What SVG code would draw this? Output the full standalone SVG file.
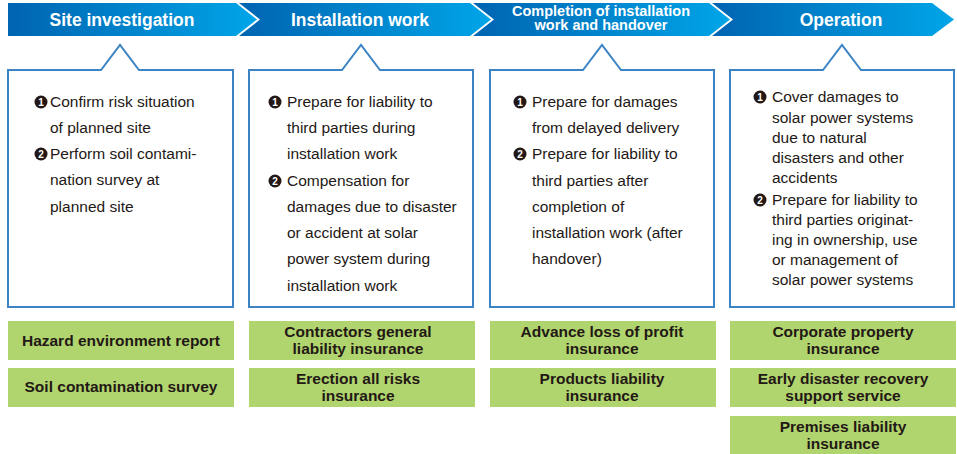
<svg xmlns="http://www.w3.org/2000/svg" width="957" height="454" viewBox="0 0 957 454">
<defs>
<linearGradient id="hg" x1="0" y1="0" x2="1" y2="0">
<stop offset="0" stop-color="#0064b1"/>
<stop offset="1" stop-color="#00a5e8"/>
</linearGradient>
</defs>
<style>
.hd{fill:url(#hg)}
.ht{font-family:"Liberation Sans",Arial,sans-serif;font-weight:bold;fill:#fff;text-anchor:middle}
.bx{fill:#fff;stroke:#3d84c5;stroke-width:2}
.bt{font-family:"Liberation Sans",Arial,sans-serif;font-size:15.5px;fill:#231815}
.nc{fill:#231815}
.nt{font-family:"Liberation Sans",Arial,sans-serif;font-size:10px;font-weight:bold;fill:#fff;text-anchor:middle}
.gb{fill:#b1d56e}
.gt{font-family:"Liberation Sans",Arial,sans-serif;font-size:15.5px;font-weight:bold;fill:#231815;text-anchor:middle}
</style>
<rect width="957" height="454" fill="#fff"/>

<g id="header1">
<polygon class="hd" points="8,3 236,3 257,19.5 236,36 8,36"/>
<text class="ht" x="122" y="26" font-size="17.5">Site investigation</text>
</g>
<g id="header2">
<polygon class="hd" points="239,3 470,3 491,19.5 470,36 239,36 260,19.5"/>
<text class="ht" x="360" y="26" font-size="17.5">Installation work</text>
</g>
<g id="header3">
<polygon class="hd" points="473,3 709,3 730,19.5 709,36 473,36 494,19.5"/>
<text class="ht" x="601" y="15.5" font-size="14.5">Completion of installation</text>
<text class="ht" x="601" y="30" font-size="14.5">work and handover</text>
</g>
<g id="header4">
<polygon class="hd" points="712,3 932,3 954,19.5 932,36 712,36 733,19.5"/>
<text class="ht" x="841" y="26" font-size="17.5">Operation</text>
</g>

<g id="box1">
<path class="bx" d="M8,70 H101 L120,45 L139,70 H233 V307 H8 Z"/>
<circle class="nc" cx="41" cy="102" r="6.5"/><text class="nt" x="41" y="105.5">1</text>
<circle class="nc" cx="41" cy="154" r="6.5"/><text class="nt" x="41" y="157.5">2</text>
<text class="bt">
<tspan x="50" y="107">Confirm risk situation</tspan>
<tspan x="50" y="133">of planned site</tspan>
<tspan x="50" y="159">Perform soil contami-</tspan>
<tspan x="50" y="185">nation survey at</tspan>
<tspan x="50" y="212">planned site</tspan>
</text>
</g>

<g id="box2">
<path class="bx" d="M249,70 H342 L361,45 L380,70 H473 V307 H249 Z"/>
<circle class="nc" cx="275" cy="102" r="6.5"/><text class="nt" x="275" y="105.5">1</text>
<circle class="nc" cx="275" cy="181" r="6.5"/><text class="nt" x="275" y="184.5">2</text>
<text class="bt">
<tspan x="287" y="107">Prepare for liability to</tspan>
<tspan x="287" y="133">third parties during</tspan>
<tspan x="287" y="159">installation work</tspan>
<tspan x="287" y="186">Compensation for</tspan>
<tspan x="287" y="212">damages due to disaster</tspan>
<tspan x="287" y="238">or accident at solar</tspan>
<tspan x="287" y="264">power system during</tspan>
<tspan x="287" y="291">installation work</tspan>
</text>
</g>

<g id="box3">
<path class="bx" d="M490,70 H583 L602,45 L621,70 H714 V307 H490 Z"/>
<circle class="nc" cx="520" cy="102" r="6.5"/><text class="nt" x="520" y="105.5">1</text>
<circle class="nc" cx="520" cy="154" r="6.5"/><text class="nt" x="520" y="157.5">2</text>
<text class="bt">
<tspan x="532" y="107">Prepare for damages</tspan>
<tspan x="532" y="133">from delayed delivery</tspan>
<tspan x="532" y="159">Prepare for liability to</tspan>
<tspan x="532" y="186">third parties after</tspan>
<tspan x="532" y="212">completion of</tspan>
<tspan x="532" y="238">installation work (after</tspan>
<tspan x="532" y="264">handover)</tspan>
</text>
</g>

<g id="box4">
<path class="bx" d="M730,70 H823 L842,45 L861,70 H954 V307 H730 Z"/>
<circle class="nc" cx="760" cy="97" r="6.5"/><text class="nt" x="760" y="100.5">1</text>
<circle class="nc" cx="760" cy="200" r="6.5"/><text class="nt" x="760" y="203.5">2</text>
<text class="bt">
<tspan x="772" y="102">Cover damages to</tspan>
<tspan x="772" y="123">solar power systems</tspan>
<tspan x="772" y="143">due to natural</tspan>
<tspan x="772" y="163">disasters and other</tspan>
<tspan x="772" y="183">accidents</tspan>
<tspan x="772" y="205">Prepare for liability to</tspan>
<tspan x="772" y="225">third parties originat-</tspan>
<tspan x="772" y="245">ing in ownership, use</tspan>
<tspan x="772" y="265">or management of</tspan>
<tspan x="772" y="285">solar power systems</tspan>
</text>
</g>

<g id="g-hazard"><rect class="gb" x="8" y="321" width="226" height="39"/><text class="gt" x="121" y="346">Hazard environment report</text></g>
<g id="g-soil"><rect class="gb" x="8" y="368" width="226" height="39"/><text class="gt" x="121" y="392">Soil contamination survey</text></g>
<g id="g-cgl"><rect class="gb" x="249" y="321" width="226" height="39"/><text class="gt" x="358" y="337">Contractors general</text><text class="gt" x="358" y="354">liability insurance</text></g>
<g id="g-ear"><rect class="gb" x="249" y="368" width="226" height="39"/><text class="gt" x="358" y="384">Erection all risks</text><text class="gt" x="358" y="401">insurance</text></g>
<g id="g-alop"><rect class="gb" x="490" y="321" width="226" height="39"/><text class="gt" x="602" y="337">Advance loss of profit</text><text class="gt" x="602" y="354">insurance</text></g>
<g id="g-pl"><rect class="gb" x="490" y="368" width="226" height="39"/><text class="gt" x="602" y="384">Products liability</text><text class="gt" x="602" y="401">insurance</text></g>
<g id="g-cpi"><rect class="gb" x="730" y="321" width="226" height="39"/><text class="gt" x="843" y="337">Corporate property</text><text class="gt" x="843" y="354">insurance</text></g>
<g id="g-edr"><rect class="gb" x="730" y="368" width="226" height="39"/><text class="gt" x="843" y="384">Early disaster recovery</text><text class="gt" x="843" y="401">support service</text></g>
<g id="g-prem"><rect class="gb" x="730" y="416" width="226" height="38"/><text class="gt" x="843" y="432">Premises liability</text><text class="gt" x="843" y="449">insurance</text></g>
</svg>
